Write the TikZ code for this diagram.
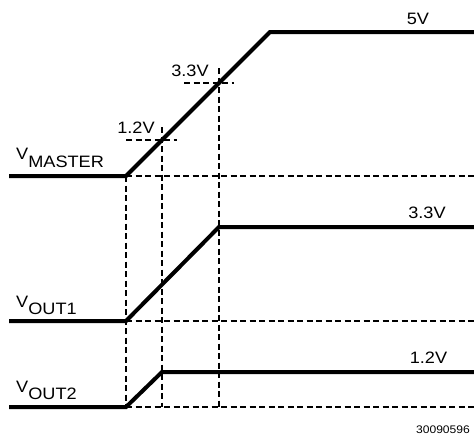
\documentclass[tikz,border=0pt]{standalone}
\usepackage{fontspec}
\setmainfont{Liberation Sans}[FakeStretch=1.1]
\begin{document}
\begin{tikzpicture}[x=1pt,y=-1pt,
  wave/.style={line width=4pt,line join=miter,line cap=butt},
  guide/.style={line width=1.3pt,dash pattern=on 6pt off 3.5pt},
  lbl/.style={inner sep=0pt,font=\fontsize{16.5}{16.5}\selectfont},
  sig/.style={inner sep=0pt,anchor=base west,font=\fontsize{16.5}{16.5}\selectfont},
  fig/.style={inner sep=0pt,font=\fontsize{11}{11}\selectfont}]
\useasboundingbox (0,0) rectangle (474,439);
% key points
\coordinate (m0) at (9,176);
\coordinate (m1) at (126,176);
\coordinate (m2) at (270,32);
\coordinate (m3) at (474,32);
\coordinate (mr) at (474,176);
\coordinate (a0) at (9,321);
\coordinate (a1) at (126,321);
\coordinate (a2) at (219,227);
\coordinate (a3) at (474,227);
\coordinate (ar) at (474,321);
\coordinate (b0) at (9,407);
\coordinate (b1) at (126,407);
\coordinate (b2) at (162,372);
\coordinate (b3) at (474,372);
\coordinate (br) at (474,407);
\coordinate (h12l) at (126,140);
\coordinate (h12r) at (177,140);
\coordinate (h33l) at (184,83);
\coordinate (h33r) at (234,83);
\coordinate (v12t) at (162,127);
\coordinate (v33t) at (219,68);
\coordinate (v12b) at (162,407);
\coordinate (v33b) at (219,407);
% guides
\draw[guide] (m1) -- (mr);
\draw[guide] (a1) -- (ar);
\draw[guide] (b1) -- (br);
\draw[guide] (m1) -- (b1);
\draw[guide] (v12t) -- (v12b);
\draw[guide] (v33t) -- (v33b);
\draw[guide] (h12l) -- (h12r);
\draw[guide] (h33l) -- (h33r);
% waveforms
\draw[wave] (m0) -- (m1) -- (m2) -- (m3);
\draw[wave] (a0) -- (a1) -- (a2) -- (a3);
\draw[wave] (b0) -- (b1) -- (b2) -- (b3);
% labels
\node[lbl] (l5) at (418,18.5) {5V};
\node[lbl] (l33r) at (427,213) {3.3V};
\node[lbl] (l12r) at (428.5,358) {1.2V};
\node[lbl] (l33) at (190,71) {3.3V};
\node[lbl] (l12) at (136,128) {1.2V};
\node[sig] (vm) at (16,159) {V\raisebox{-8pt}{MASTER}};
\node[sig] (v1) at (16,307) {V\raisebox{-7.5pt}{OUT1}};
\node[sig] (v2) at (16,392) {V\raisebox{-7.5pt}{OUT2}};
\node[fig] (fn) at (443,430) {30090596};
\end{tikzpicture}
\end{document}
